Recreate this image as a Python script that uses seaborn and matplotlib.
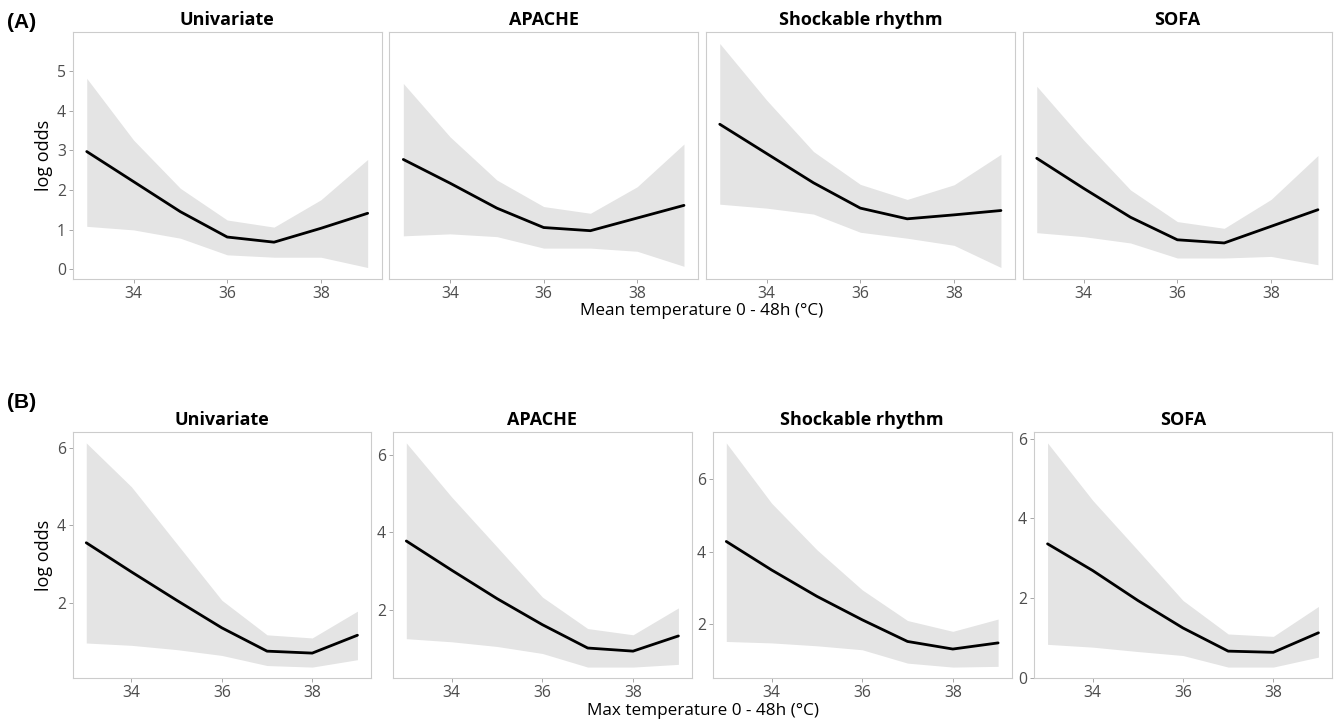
import seaborn as sns
import matplotlib.pyplot as plt
import pandas as pd

temps = [33, 34, 35, 36, 37, 38, 39]
models = ["Univariate", "APACHE", "Shockable rhythm", "SOFA"]

# (A) mean temperature 0 - 48h
mean_fit = [
    [2.97, 2.21, 1.45, 0.81, 0.68, 1.03, 1.41],
    [2.77, 2.17, 1.54, 1.05, 0.97, 1.29, 1.61],
    [3.66, 2.92, 2.18, 1.54, 1.27, 1.37, 1.48],
    [2.80, 2.04, 1.31, 0.74, 0.66, 1.08, 1.50],
]
mean_hi = [
    [4.82, 3.26, 2.04, 1.24, 1.06, 1.75, 2.77],
    [4.69, 3.34, 2.25, 1.58, 1.41, 2.08, 3.16],
    [5.70, 4.27, 2.97, 2.14, 1.76, 2.13, 2.90],
    [4.62, 3.26, 2.00, 1.20, 1.03, 1.76, 2.87],
]
mean_lo = [
    [1.08, 0.99, 0.78, 0.36, 0.30, 0.30, 0.04],
    [0.84, 0.89, 0.82, 0.53, 0.53, 0.45, 0.07],
    [1.64, 1.54, 1.39, 0.93, 0.78, 0.60, 0.04],
    [0.92, 0.82, 0.66, 0.28, 0.28, 0.32, 0.11],
]

# (B) max temperature 0 - 48h
max_fit = [
    [3.55, 2.80, 2.07, 1.36, 0.76, 0.71, 1.17],
    [3.78, 3.03, 2.30, 1.63, 1.03, 0.95, 1.34],
    [4.28, 3.49, 2.76, 2.11, 1.51, 1.30, 1.47],
    [3.36, 2.69, 1.94, 1.25, 0.67, 0.64, 1.13],
]
max_hi = [
    [6.12, 4.99, 3.53, 2.07, 1.18, 1.10, 1.79],
    [6.30, 4.91, 3.63, 2.34, 1.53, 1.37, 2.06],
    [7.01, 5.34, 4.05, 2.94, 2.09, 1.79, 2.13],
    [5.89, 4.45, 3.20, 1.94, 1.10, 1.04, 1.79],
]
max_lo = [
    [0.97, 0.91, 0.80, 0.65, 0.39, 0.35, 0.54],
    [1.27, 1.19, 1.07, 0.89, 0.54, 0.54, 0.61],
    [1.51, 1.47, 1.39, 1.28, 0.91, 0.80, 0.82],
    [0.84, 0.77, 0.66, 0.56, 0.27, 0.27, 0.52],
]

sns.set_theme(style="white")
plt.rcParams['font.family'] = ['Open Sans', 'DejaVu Sans']

W, H = 1338, 720
fig = plt.figure(figsize=(W / 100, H / 100), dpi=100)


def rect(x0, x1, y0, y1):
    return [x0 / W, 1 - y1 / H, (x1 - x0) / W, (y1 - y0) / H]


row_a_x = [(72.7, 381.7), (389.3, 698), (705.7, 1015), (1022.7, 1332)]
row_b_x = [(72.7, 371), (392.7, 692), (712.7, 1011.7), (1034, 1332)]


def panel(ax, fit, lo, hi, title):
    df = pd.DataFrame({"temp": temps, "fit": fit, "lo": lo, "hi": hi})
    ax.fill_between(df["temp"], df["lo"], df["hi"], color="#e4e4e4", lw=0)
    sns.lineplot(data=df, x="temp", y="fit", color="black", lw=2, ax=ax)
    ax.set_title(title, fontsize=13, fontweight="bold", pad=5, color="black")
    ax.set_xlabel("")
    ax.set_ylabel("")
    ax.set_xticks([34, 36, 38])
    ax.margins(x=0.05, y=0.05)
    for s in ax.spines.values():
        s.set_color("#cccccc")
        s.set_linewidth(0.8)
    ax.tick_params(axis="both", which="both", length=3, width=0.6,
                   color="#999999", labelcolor="#4d4d4d", labelsize=11.3,
                   bottom=True, left=True, pad=2)


axes_a = []
for i, (x0, x1) in enumerate(row_a_x):
    ax = fig.add_axes(rect(x0, x1, 32.3, 278.7),
                      sharey=axes_a[0] if axes_a else None)
    panel(ax, mean_fit[i], mean_lo[i], mean_hi[i], models[i])
    if i > 0:
        ax.tick_params(axis="y", left=False, labelleft=False)
    axes_a.append(ax)
axes_a[0].set_yticks([0, 1, 2, 3, 4, 5])
axes_a[0].set_ylabel("log odds", fontsize=13, labelpad=3, color="black")

axes_b = []
for i, (x0, x1) in enumerate(row_b_x):
    ax = fig.add_axes(rect(x0, x1, 431.7, 678.3))
    panel(ax, max_fit[i], max_lo[i], max_hi[i], models[i])
    ax.yaxis.set_major_locator(plt.MultipleLocator(2))
    axes_b.append(ax)
axes_b[0].set_ylabel("log odds", fontsize=13, labelpad=3, color="black")

fig.text(702 / W, 1 - 311 / H, "Mean temperature 0 - 48h (°C)",
         ha="center", va="center", fontsize=12.3, color="black")
fig.text(703 / W, 1 - 711 / H, "Max temperature 0 - 48h (°C)",
         ha="center", va="center", fontsize=12.3, color="black")
fig.text(7 / W, 1 - 22 / H, "(A)", ha="left", va="center", fontsize=15,
         fontweight="bold", color="black",
         family=["Liberation Sans", "DejaVu Sans"])
fig.text(7 / W, 1 - 403 / H, "(B)", ha="left", va="center", fontsize=15,
         fontweight="bold", color="black",
         family=["Liberation Sans", "DejaVu Sans"])

fig.savefig("out.png", dpi=100, facecolor="white")
